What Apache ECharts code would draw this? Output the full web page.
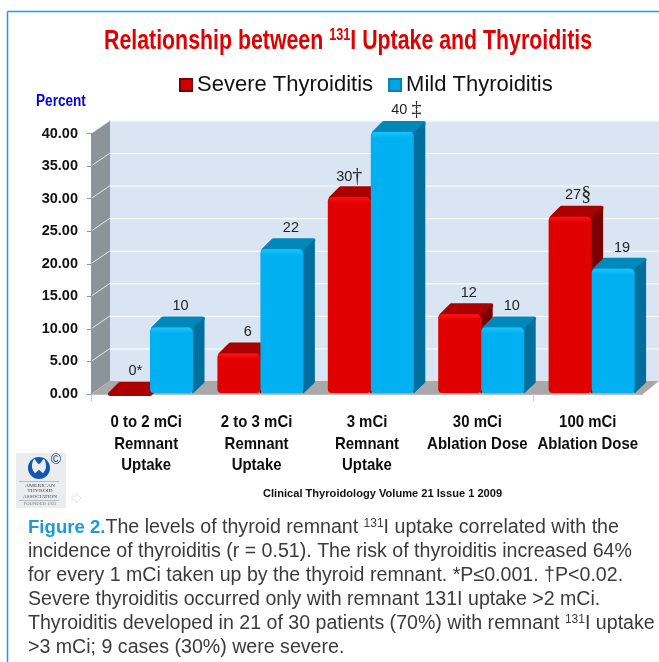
<!DOCTYPE html>
<html>
<head>
<meta charset="utf-8">
<style>html,body{margin:0;padding:0;background:#fff}#chart{width:659px;height:662px}</style>
<script src="https://cdn.jsdelivr.net/npm/echarts@6/dist/echarts.min.js"></script>
</head>
<body>
<div id="chart"></div>
<script>
var categories = ['0 to 2 mCi\nRemnant\nUptake', '2 to 3 mCi\nRemnant\nUptake', '3 mCi\nRemnant\nUptake', '30 mCi\nAblation Dose', '100 mCi\nAblation Dose'];
var severeValues = [0, 6, 30, 12, 27];
var mildValues = [10, 22, 40, 10, 19];
var severeMarks = ['*', '', '†', '', '§'];
var mildMarks = ['', '', '‡', '', ''];
var yTicks = [0, 5, 10, 15, 20, 25, 30, 35, 40];

var captionLines = [
    '{f|Figure 2.}The levels of thyroid remnant {s|131}I uptake correlated with the',
    'incidence of thyroiditis (r = 0.51). The risk of thyroiditis increased 64%',
    'for every 1 mCi taken up by the thyroid remnant. *P≤0.001. †P<0.02.',
    'Severe thyroiditis occurred only with remnant 131I uptake >2 mCi.',
    'Thyroiditis developed in 21 of 30 patients (70%) with remnant {s|131}I uptake',
    '>3 mCi; 9 cases (30%) were severe.'
];

var sans = '"Liberation Sans", Arial, sans-serif';
var serif = '"Liberation Serif", serif';

// 3D look: the wall sits up and to the right of the axis plane
var wallDx = 19, wallDy = 13;
var barW = 43, depthX = 12, depthY = 11;

var myChart = echarts.init(document.getElementById('chart'));

function wallItem(params, api) {
    var p0 = api.coord([0, 0]);
    var pTop = api.coord([0, 40]);
    var x0 = 91, xEnd = 659, xFront = 643;
    // only two of the category ticks show in the original
    var tickX = Math.round(api.coord([4, 0])[0] - api.size([1, 0])[0] / 2) + 0.5;
    return {
        type: 'group',
        children: [
            {type: 'rect', shape: {x: x0 + wallDx, y: pTop[1] - wallDy, width: xEnd - x0 - wallDx, height: p0[1] - pTop[1]}, style: {fill: '#d9e5f2'}},
            {type: 'polygon', shape: {points: [[x0, pTop[1]], [x0 + wallDx, pTop[1] - wallDy], [x0 + wallDx, p0[1] - wallDy], [x0, p0[1]]]}, style: {fill: '#8b949b'}},
            {type: 'polygon', shape: {points: [[x0, p0[1]], [xFront, p0[1]], [xEnd, p0[1] - wallDy], [x0 + wallDx, p0[1] - wallDy]]}, style: {fill: '#a9a9a9'}},
            {type: 'line', shape: {x1: x0, y1: p0[1] + 0.5, x2: xFront, y2: p0[1] + 0.5}, style: {stroke: '#b9bcbf', lineWidth: 1}},
            {type: 'line', shape: {x1: x0 + 0.5, y1: p0[1], x2: x0 + 0.5, y2: p0[1] + 7}, style: {stroke: '#c4c7ca', lineWidth: 1}},
            {type: 'line', shape: {x1: tickX, y1: p0[1], x2: tickX, y2: p0[1] + 7}, style: {stroke: '#c4c7ca', lineWidth: 1}}
        ]
    };
}

function gridLineItem(params, api) {
    var v = api.value(0);
    if (v === 0) return null;
    var y = api.coord([0, v])[1];
    return {
        type: 'group',
        children: [
            {type: 'line', shape: {x1: 91, y1: y, x2: 91 + wallDx, y2: y - wallDy}, style: {stroke: '#e4e8ec', lineWidth: 1}},
            {type: 'line', shape: {x1: 91 + wallDx, y1: y - wallDy + 0.5, x2: 659, y2: y - wallDy + 0.5}, style: {stroke: '#ffffff', lineWidth: 1}}
        ]
    };
}

function makeBar(side, front, light, top, dark, marks) {
    return function (params, api) {
        var cat = api.value(0), val = api.value(1);
        var base = api.coord([cat, 0]);
        var tip = api.coord([cat, val]);
        var yTop = tip[1] - 1.5;
        var yBase = base[1] - 1;
        var xL = base[0] + 3.8 + (side === 0 ? -barW : 0);
        var xR = xL + barW;
        var kids = [];
        var mark = marks[params.dataIndex];
        if (val === 0) yTop = yBase;
        var h = yBase - yTop;
        // stroke with round joins gives the soft corners of the bevelled bars
        kids.push({type: 'polygon', shape: {points: [[xL + 3, yTop + 1], [xL + depthX + 1, yTop - depthY + 2], [xR + depthX - 2, yTop - depthY + 2], [xR, yTop + 1]]},
            style: {fill: top, stroke: top, lineWidth: 4, lineJoin: 'round'}});
        if (val > 0) {
            kids.push({type: 'polygon', shape: {points: [[xR, yTop + 2], [xR + depthX - 1.5, yTop - depthY + 3], [xR + depthX - 1.5, yBase - depthY], [xR, yBase - 1]]},
                style: {fill: dark, stroke: dark, lineWidth: 2, lineJoin: 'round'}});
            kids.push({type: 'rect', shape: {x: xL, y: yTop, width: barW, height: h, r: 4},
                style: {fill: front}});
            kids.push({type: 'rect', shape: {x: xL + 1, y: yTop, width: barW - 2, height: 6, r: [4, 4, 0, 0]},
                style: {fill: new echarts.graphic.LinearGradient(0, 0, 0, 1, [{offset: 0, color: light}, {offset: 1, color: front}])}});
        }
        // value label sits above the back edge of the bar top
        var txt = '{v|' + val + '}' + (mark ? '{m' + (mark === '*' ? 'a' : '') + '|' + mark + '}' : '');
        var dx = 9;
        var dy = -21;
        if (mark === '*') { dx = 7; dy = -22; }
        if (mark === '†') { dx = 0; dy = -20; }
        if (mark === '§') { dx = 8; dy = -22; }
        if (mark === '‡') { dx = 14; dy = -22; txt = '{v|' + val + ' }{m|' + mark + '}'; }
        kids.push({type: 'text', style: {
            text: txt,
            x: (xL + xR) / 2 + dx,
            y: yTop + dy,
            align: 'center', verticalAlign: 'middle',
            rich: {
                v: {fontFamily: sans, fontSize: 14.5, fill: '#222'},
                m: {fontFamily: serif, fontSize: 20, fill: '#222'},
                ma: {fontFamily: sans, fontSize: 15, fill: '#222', verticalAlign: 'top'}
            }
        }});
        return {type: 'group', children: kids};
    };
}

// category labels, drawn here so they can be squeezed horizontally
// (no narrow font installed)
function catLabelItem(params, api) {
    var base = api.coord([api.value(0), 0]);
    return {
        type: 'text',
        x: base[0], y: base[1] + 18,
        scaleX: 0.88,
        style: {
            text: categories[params.dataIndex],
            align: 'center', verticalAlign: 'top',
            fontFamily: sans, fontWeight: 'bold', fontSize: 17, lineHeight: 21.5, fill: '#0c0c0c'
        }
    };
}

function toPairs(values) {
    return values.map(function (v, i) { return [i, v]; });
}

function logoText(text, y, size, sx, color) {
    return {type: 'text', x: 40, y: y, scaleX: sx, style: {text: text, fontFamily: serif, fontSize: size, fill: color, align: 'center', verticalAlign: 'middle'}};
}

var graphics = [
    // frame around the figure
    {type: 'line', silent: true, shape: {x1: 7.5, y1: 11.5, x2: 659, y2: 11.5}, style: {stroke: '#1d9fd8', lineWidth: 1.5}},
    {type: 'line', silent: true, shape: {x1: 7.5, y1: 11.5, x2: 7.5, y2: 662}, style: {stroke: '#1d9fd8', lineWidth: 1.5}},
    {type: 'text', x: 104, y: 41.5, scaleX: 0.79, style: {
        text: '{t|Relationship between }{s|131}{t|I Uptake and Thyroiditis}', verticalAlign: 'middle',
        rich: {
            t: {fontFamily: sans, fontWeight: 'bold', fontSize: 27, fill: '#e00000'},
            s: {fontFamily: sans, fontWeight: 'bold', fontSize: 16, fill: '#e00000', verticalAlign: 'top'}
        }
    }},
    {type: 'text', x: 36, y: 102, scaleX: 0.85, style: {text: 'Percent', verticalAlign: 'middle', fontFamily: sans, fontWeight: 'bold', fontSize: 16, fill: '#0000e6'}},
    {type: 'text', x: 263, y: 494, scaleX: 1.11, style: {text: 'Clinical Thyroidology Volume 21 Issue 1 2009', verticalAlign: 'middle', fontFamily: sans, fontWeight: 'bold', fontSize: 10, fill: '#111'}},
    // ATA logo
    {type: 'rect', shape: {x: 16, y: 453, width: 50, height: 55}, style: {fill: '#e9edf0'}},
    {type: 'circle', shape: {cx: 39, cy: 468, r: 11}, style: {fill: '#1458ac'}},
    {type: 'polygon', shape: {smooth: 0.3, points: [[34, 459], [39, 464], [44, 459], [46, 467], [43, 473], [39, 470], [35, 473], [32, 467]]}, style: {fill: '#e9edf0'}},
    {type: 'text', x: 56, y: 460, style: {text: '©', fontFamily: sans, fontSize: 14, fill: '#123f80', align: 'center', verticalAlign: 'middle'}},
    {type: 'line', shape: {x1: 19, y1: 481.5, x2: 59, y2: 481.5}, style: {stroke: '#b5b9bd'}},
    logoText('AMERICAN', 486, 4.5, 1.25, '#444'),
    logoText('THYROID', 491, 4.5, 1.25, '#444'),
    logoText('ASSOCIATION', 496.5, 4.5, 1.15, '#444'),
    {type: 'line', shape: {x1: 19, y1: 500.5, x2: 59, y2: 500.5}, style: {stroke: '#b5b9bd'}},
    logoText('FOUNDED 1923', 504, 3.6, 1.3, '#777'),
    {type: 'polygon', shape: {points: [[72, 496], [76, 496], [76, 493], [81, 498], [76, 503], [76, 500], [72, 500]]}, style: {fill: '#fff', stroke: '#e6e6e6'}}
];

captionLines.forEach(function (line, i) {
    graphics.push({type: 'text', x: 28, y: 528 + i * 24, style: {
        text: line, verticalAlign: 'middle',
        fontFamily: sans, fontSize: 19.6, fill: '#3b3b3b',
        rich: {
            f: {fontFamily: sans, fontWeight: 'bold', fontSize: 18.6, fill: '#1b9ad6'},
            s: {fontFamily: sans, fontSize: 12, fill: '#3b3b3b', verticalAlign: 'top'}
        }
    }});
});

var option = {
    animation: false,
    backgroundColor: '#ffffff',
    legend: {
        left: 179, top: 74, padding: 0, itemGap: 15,
        itemWidth: 12, itemHeight: 12,
        icon: 'rect',
        textStyle: {fontFamily: sans, fontSize: 22, color: '#111'},
        data: ['Severe Thyroiditis', 'Mild Thyroiditis']
    },
    grid: {left: 91, top: 133.5, width: 552, height: 260.5},
    xAxis: {
        type: 'category',
        data: categories,
        axisLine: {show: false},
        axisTick: {show: false},
        axisLabel: {show: false}
    },
    yAxis: {
        type: 'value',
        min: 0, max: 40, interval: 5,
        splitLine: {show: false},
        axisLine: {show: true, lineStyle: {color: '#6f9fc6'}},
        axisTick: {show: true, length: 4, lineStyle: {color: '#6f9fc6'}},
        axisLabel: {margin: 13, fontFamily: sans, fontWeight: 'bold', fontSize: 14.5, color: '#111',
            padding: [2, 0, 0, 0],
            formatter: function (v) { return v.toFixed(2); }},
        z: 5
    },
    graphic: graphics,
    series: [
        {type: 'custom', name: 'wall', silent: true, renderItem: wallItem, data: [[0, 0]], z: 1, encode: {x: 0, y: 1}},
        {type: 'custom', name: 'gridlines', silent: true, renderItem: gridLineItem, data: yTicks.map(function (t) { return [t]; }), z: 1, encode: {y: 0}},
        {type: 'custom', name: 'catLabels', silent: true, renderItem: catLabelItem, data: toPairs(categories.map(function () { return 0; })), z: 2, encode: {x: 0, y: 1}},
        {type: 'custom', name: 'Severe Thyroiditis', renderItem: makeBar(0, '#e00000', '#ff1414', '#aa0000', '#7c0000', severeMarks),
            data: toPairs(severeValues), itemStyle: {color: '#d00000', borderColor: '#7c0000', borderWidth: 1}, encode: {x: 0, y: 1}, z: 3},
        {type: 'custom', name: 'Mild Thyroiditis', renderItem: makeBar(1, '#00b0f0', '#1cc6ff', '#0088bb', '#006f9e', mildMarks),
            data: toPairs(mildValues), itemStyle: {color: '#00a6e2', borderColor: '#0b7fae', borderWidth: 1}, encode: {x: 0, y: 1}, z: 4}
    ]
};

myChart.setOption(option);
</script>
</body>
</html>
